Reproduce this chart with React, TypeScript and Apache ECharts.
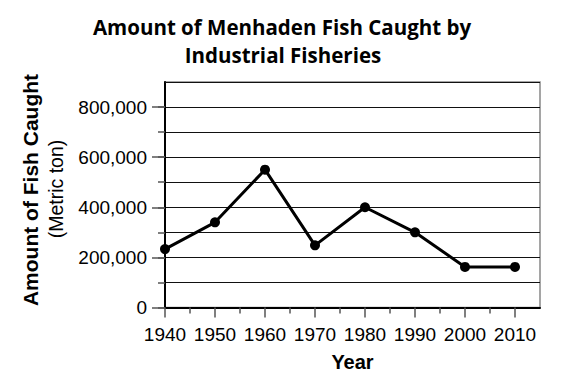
import React, { useEffect, useRef } from "react";
import * as echarts from "echarts";

const years = [1940, 1950, 1960, 1970, 1980, 1990, 2000, 2010];
const fishCaught = [233000, 340000, 550000, 248000, 400000, 300000, 162000, 162000];
const yLabelTicks = [0, 200000, 400000, 600000, 800000];
const yAllTicks = [0, 100000, 200000, 300000, 400000, 500000, 600000, 700000, 800000];
const yTop = 900000;
const xLabelTicks = [1940, 1950, 1960, 1970, 1980, 1990, 2000, 2010];
const xMinorTicks = [1945, 1955, 1965, 1975, 1985, 1995, 2005];
const titleLines = ["Amount of Menhaden Fish Caught by", "Industrial Fisheries"];
const xAxisTitle = "Year";
const yAxisTitle = "Amount of Fish Caught";
const yAxisUnit = "(Metric ton)";

const SANS = "'Liberation Sans', Arial, Helvetica, sans-serif";
const TITLE_FONT = "'Open Sans', 'Noto Sans', sans-serif";

export default function App() {
  const ref = useRef<HTMLDivElement>(null);
  useEffect(() => {
    if (!ref.current) return;
    const chart = echarts.init(ref.current, null, { renderer: "svg" });
    const tickStyle = { color: "#555", width: 1.5 };
    chart.setOption({
      animation: false,
      grid: {
        left: 165,
        top: 82,
        width: 375,
        height: 225.5,
        show: true,
        borderColor: "#888",
        borderWidth: 1.5,
        backgroundColor: "transparent",
      },
      xAxis: [
        {
          type: "value",
          min: 1940,
          max: 2015,
          interval: 5,
          position: "bottom",
          axisLine: { show: true, onZero: false, lineStyle: { color: "#000", width: 2 } },
          axisTick: { show: true, customValues: xLabelTicks, length: 10, lineStyle: tickStyle },
          axisLabel: {
            customValues: xLabelTicks,
            formatter: (v: number) => String(v),
            fontFamily: SANS,
            fontSize: 19,
            color: "#000",
            margin: 17,
          },
          splitLine: { show: false },
        },
        {
          type: "value",
          min: 1940,
          max: 2015,
          interval: 5,
          position: "bottom",
          axisLine: { show: false, onZero: false },
          axisTick: { show: true, customValues: xMinorTicks, length: 6, lineStyle: tickStyle },
          axisLabel: { show: false },
          splitLine: { show: false },
        },
      ],
      yAxis: [
        {
          type: "value",
          min: 0,
          max: yTop,
          interval: 100000,
          position: "left",
          axisLine: { show: true, onZero: false, lineStyle: { color: "#000", width: 2 } },
          axisTick: { show: true, customValues: yAllTicks, length: 7, lineStyle: tickStyle },
          axisLabel: { show: false },
          splitLine: { show: true, lineStyle: { color: "#111", width: 1 } },
        },
        {
          type: "value",
          min: 0,
          max: yTop,
          interval: 100000,
          position: "left",
          axisLine: { show: false, onZero: false },
          axisTick: { show: true, customValues: yLabelTicks, length: 13, lineStyle: tickStyle },
          axisLabel: {
            customValues: yLabelTicks,
            formatter: (v: number) => v.toLocaleString("en-US"),
            fontFamily: SANS,
            fontSize: 19,
            color: "#000",
            margin: 18,
          },
          splitLine: { show: false },
        },
      ],
      series: [
        {
          type: "line",
          xAxisIndex: 0,
          yAxisIndex: 0,
          data: years.map((y, i) => [y, fishCaught[i]]),
          symbol: "circle",
          symbolSize: 10,
          lineStyle: { color: "#000", width: 3 },
          itemStyle: { color: "#000" },
          markLine: {
            silent: true,
            symbol: "none",
            label: { show: false },
            lineStyle: { color: "#111", width: 1, type: "solid" },
            data: [{ yAxis: yTop }],
          },
        },
      ],
      graphic: [
        {
          type: "text",
          x: 282,
          y: 27,
          style: {
            text: titleLines[0],
            fontFamily: TITLE_FONT,
            fontWeight: "bold",
            fontSize: 20.5,
            fill: "#000",
            align: "center",
            verticalAlign: "middle",
          },
        },
        {
          type: "text",
          x: 283,
          y: 55,
          style: {
            text: titleLines[1],
            fontFamily: TITLE_FONT,
            fontWeight: "bold",
            fontSize: 20.5,
            fill: "#000",
            align: "center",
            verticalAlign: "middle",
          },
        },
        {
          type: "text",
          x: 30,
          y: 190,
          rotation: Math.PI / 2,
          style: {
            text: yAxisTitle,
            fontFamily: SANS,
            fontWeight: "bold",
            fontSize: 21,
            fill: "#000",
            align: "center",
            verticalAlign: "middle",
          },
        },
        {
          type: "text",
          x: 56,
          y: 189,
          rotation: Math.PI / 2,
          style: {
            text: yAxisUnit,
            fontFamily: SANS,
            fontSize: 19.5,
            fill: "#000",
            align: "center",
            verticalAlign: "middle",
          },
        },
        {
          type: "text",
          x: 352.5,
          y: 362,
          style: {
            text: xAxisTitle,
            fontFamily: SANS,
            fontWeight: "bold",
            fontSize: 20,
            fill: "#000",
            align: "center",
            verticalAlign: "middle",
          },
        },
      ],
    });
    return () => chart.dispose();
  }, []);
  return (
    <div
      ref={ref}
      style={{ position: "absolute", left: 0, top: 0, width: 572, height: 382 }}
    />
  );
}
